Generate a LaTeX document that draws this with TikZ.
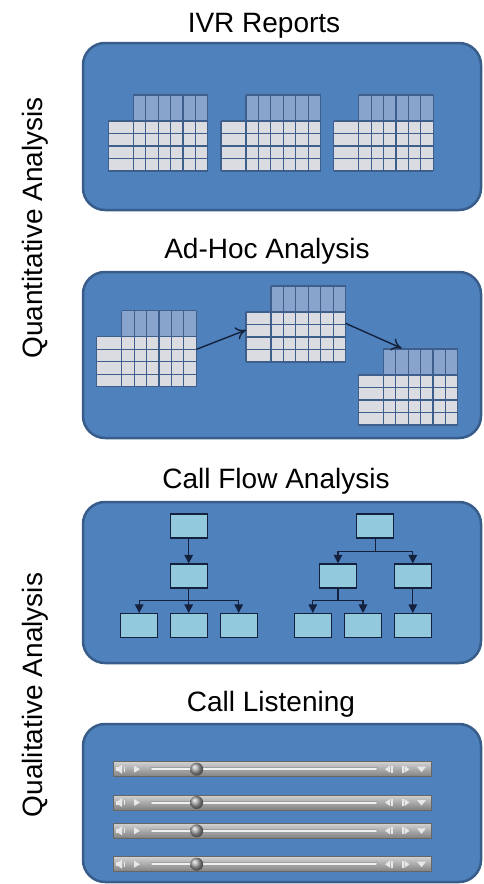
\documentclass[tikz,border=0pt]{standalone}
\usepackage{fontspec}
\setmainfont{Liberation Sans}
\usetikzlibrary{arrows.meta,calc}
\definecolor{panelfill}{HTML}{4F81BD}
\definecolor{paneldraw}{HTML}{385D8A}
\definecolor{hdrfill}{HTML}{88A4CC}
\definecolor{cellfill}{HTML}{DADCE2}
\definecolor{gridcol}{HTML}{3E5E8C}
\definecolor{boxfill}{HTML}{93C9DC}
\definecolor{navy}{HTML}{14213D}
\definecolor{icon}{HTML}{E8E8E8}
\definecolor{bartop}{HTML}{D2D2D2}
\definecolor{barmid}{HTML}{AAAAAA}
\definecolor{barbot}{HTML}{808080}
\tikzset{
  panel/.style={fill=panelfill,draw=paneldraw,line width=2.5pt,rounded corners=22pt},
  title/.style={font=\fontsize{28}{30}\selectfont,anchor=base,inner sep=0pt},
  sidelabel/.style={font=\fontsize{28}{30}\selectfont,rotate=90,inner sep=0pt},
  gridl/.style={draw=gridcol,line width=1.1pt},
  tbox/.style={draw=navy,fill=boxfill,minimum width=37pt,minimum height=24pt,inner sep=0pt,line width=1.1pt},
  tarrow/.style={draw=navy,line width=1.2pt,-{Triangle[length=8.5pt,width=8.5pt]}},
  flowarrow/.style={draw=navy,line width=1.4pt,-{To[length=10pt,width=13pt]}},
}
\newcommand\rtable[2]{%
  \begin{scope}[shift={(#1,#2)}]
    \fill[hdrfill] (0,0) rectangle (74.5,26);
    \fill[cellfill] (-25,26) rectangle (74.5,76);
    \foreach \i in {0,...,6} \draw[gridl] (\i*12.417,0) -- (\i*12.417,76);
    \foreach \j in {0,...,4} \draw[gridl] (-25,26+\j*12.5) -- (74.5,26+\j*12.5);
    \draw[gridl] (-25,26) -- (-25,76);
    \draw[gridl] (0,0) -- (74.5,0);
  \end{scope}}
\newcommand\slider[1]{%
  \begin{scope}[shift={(0,#1)}]
    \shade[top color=bartop,middle color=barmid,bottom color=barbot] (113,0) rectangle (431,15);
    \draw[gray!80!black,line width=0.5pt] (113,0) rectangle (431,15);
    \draw[gray!75,line width=4pt,line cap=round] (152,7.5) -- (376,7.5);
    \draw[gray!12,line width=2pt,line cap=round] (152,7.5) -- (376,7.5);
    \shade[ball color=gray!70] (196.7,7.5) circle (6.5);
    % speaker
    \fill[icon] (116,5.5) rectangle (118.5,9.5);
    \fill[icon] (118.5,5.5) -- (122,3) -- (122,12) -- (118.5,9.5) -- cycle;
    \fill[icon] (123.5,5) rectangle (124.5,10);
    % play
    \fill[icon] (134,4) -- (140,7.5) -- (134,11) -- cycle;
    % step back
    \fill[icon] (390,4) -- (385,7.5) -- (390,11) -- cycle;
    \fill[icon] (391,4) rectangle (392.5,11);
    % step forward
    \fill[icon] (402,4) rectangle (403.5,11);
    \fill[icon] (404.5,4) -- (409.5,7.5) -- (404.5,11) -- cycle;
    % dropdown
    \fill[icon] (417,5) -- (426,5) -- (421.5,10.5) -- cycle;
  \end{scope}}
\begin{document}
\begin{tikzpicture}[x=1pt,y=-1pt]
\useasboundingbox (0,0) rectangle (483,884);
\fill[white] (0,0) rectangle (483,884);

% side labels
\node[sidelabel] (quant) at (35,228) {Quantitative Analysis};
\node[sidelabel] (qual) at (35,695) {Qualitative Analysis};

% titles
\node[title] (t1) at (264,32) {IVR Reports};
\node[title] (t2) at (267,258) {Ad-Hoc Analysis};
\node[title] (t3) at (276,488) {Call Flow Analysis};
\node[title] (t4) at (271,711) {Call Listening};

% panels
\draw[panel] (83,43) rectangle (481,210);
\draw[panel] (83,272) rectangle (481,438);
\draw[panel] (83,502) rectangle (481,663);
\draw[panel] (83,724) rectangle (481,882);

% panel 1 tables
\rtable{133.3}{95}
\rtable{246}{95}
\rtable{358.7}{95}

% panel 2 tables
\rtable{121.7}{310.7}
\rtable{271}{286}
\rtable{383.3}{349}
\coordinate (a1s) at (196.5,349.3);
\coordinate (a1e) at (246,330);
\coordinate (a2s) at (345.5,323.3);
\coordinate (a2e) at (401.7,348.3);
\draw[flowarrow] (a1s) -- (a1e);
\draw[flowarrow] (a2s) -- (a2e);

% panel 3 trees
\node[tbox] (L1) at (188.7,526) {};
\node[tbox] (L2) at (188.7,576) {};
\node[tbox] (L3a) at (139.2,625.5) {};
\node[tbox] (L3b) at (188.7,625.5) {};
\node[tbox] (L3c) at (238.7,625.5) {};
\draw[tarrow] (L1) -- (L2);
\draw[tarrow] (L2.south) -- ++(0,12) -| (L3a.north);
\draw[tarrow] (L2.south) -- (L3b.north);
\draw[tarrow] (L2.south) -- ++(0,12) -| (L3c.north);

\node[tbox] (R1) at (375.3,526) {};
\node[tbox] (R2a) at (338,576) {};
\node[tbox] (R2b) at (412.8,576) {};
\node[tbox] (R3a) at (312.8,625.5) {};
\node[tbox] (R3b) at (363,625.5) {};
\node[tbox] (R3c) at (412.8,625.5) {};
\draw[tarrow] (R1.south) -- ++(0,13) -| (R2a.north);
\draw[tarrow] (R1.south) -- ++(0,13) -| (R2b.north);
\draw[tarrow] (R2a.south) -- ++(0,12) -| (R3a.north);
\draw[tarrow] (R2a.south) -- ++(0,12) -| (R3b.north);
\draw[tarrow] (R2b) -- (R3c);

% panel 4 sliders
\slider{761.7}
\slider{795}
\slider{823.3}
\slider{856.7}
\end{tikzpicture}
\end{document}
